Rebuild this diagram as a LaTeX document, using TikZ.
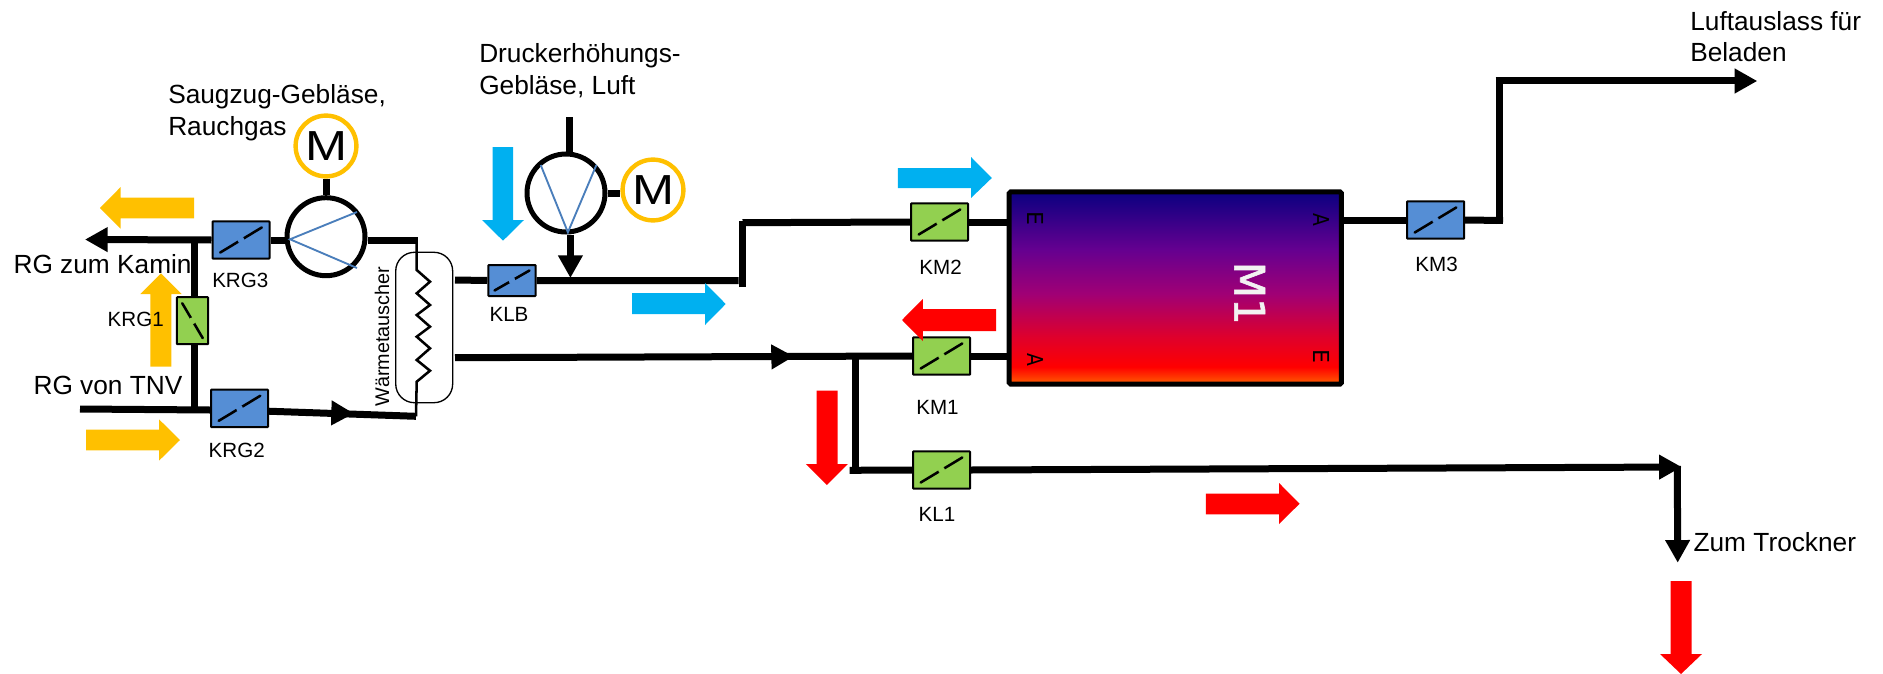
\documentclass[tikz,border=0pt]{standalone}
\usepackage{fontspec}
\setmainfont{Liberation Sans}
\newfontfamily\djv{DejaVu Sans}
\newfontfamily\djvheavy[FakeBold=1.5]{DejaVu Sans}
\usetikzlibrary{arrows.meta}
\definecolor{krblue}{HTML}{558ED5}
\definecolor{krgreen}{HTML}{92D050}
\definecolor{morange}{HTML}{FFC000}
\definecolor{flowcyan}{HTML}{00B0F0}
\definecolor{bladeblue}{HTML}{4A7EBB}
\definecolor{labelwhite}{HTML}{F2F2F2}
\definecolor{gA}{HTML}{FF6000}
\definecolor{gB}{HTML}{FF0000}
\definecolor{gC}{HTML}{E0002A}
\definecolor{gD}{HTML}{A00075}
\definecolor{gE}{HTML}{650090}
\definecolor{gF}{HTML}{0A0080}
\pgfdeclareverticalshading{mgrad}{100bp}{
 color(0bp)=(gA);
 color(25bp)=(gA);
 color(29.5bp)=(gB);
 color(37bp)=(gC);
 color(48.5bp)=(gD);
 color(60bp)=(gE);
 color(75bp)=(gF);
 color(100bp)=(gF)}
\newcommand{\bladeH}[2]{\draw[line width=1.9pt,line cap=round] ([shift={(-#1,-#2)}]path picture bounding box.center) -- ([shift={(#1,#2)}]path picture bounding box.center);
 \fill (path picture bounding box.center) circle[radius=2.6pt];}
\tikzset{
 x=0.75pt,y=-0.75pt,
 pipe/.style={line width=5.25pt,line cap=butt},
 tipped/.style={-{Triangle[length=17pt,width=17.6pt]}},
 thinpipe/.style={line width=1.9pt,line join=miter},
 damper/.style={draw,line width=1.5pt,inner sep=0pt,rounded corners=0.5pt},
 wide/.style={damper,minimum width=42.75pt,minimum height=28.1pt,
   path picture={\bladeH{15.6pt}{9.4pt}}},
 small/.style={damper,minimum width=35.6pt,minimum height=23.25pt,
   path picture={\bladeH{13.1pt}{7.5pt}}},
 upright/.style={damper,minimum width=23.5pt,minimum height=35.25pt,
   path picture={\draw[line width=1.9pt,line cap=round] ([shift={(-7.7pt,13.1pt)}]path picture bounding box.center) -- ([shift={(7.7pt,-13.1pt)}]path picture bounding box.center);
     \fill (path picture bounding box.center) circle[radius=2.6pt];}},
 fan/.style={circle,draw,line width=3.75pt,fill=white,inner sep=0pt,minimum size=58.5pt},
 motor/.style={circle,draw=morange,line width=3.3pt,fill=white,inner sep=0pt,minimum size=45.6pt,font=\fontsize{31.5}{32}\selectfont},
 blade/.style={draw=bladeblue,line width=1.4pt},
 big/.style={inner sep=0pt,anchor=base west,font=\fontsize{19.7}{24}\selectfont},
 tag/.style={inner sep=0pt,anchor=base,font=\fontsize{15.45}{18}\selectfont},
 port/.style={inner sep=0pt,rotate=-90,font=\djv\fontsize{16.5}{18}\selectfont},
}
\begin{document}
\begin{tikzpicture}
\useasboundingbox (0,0) rectangle (1883,674);
% flow arrows under the plant
\fill[morange] (194,197.7)--(120.7,197.7)--(120.7,187)--(100,208)--(120.7,228.7)--(120.7,218.3)--(194,218.3)--cycle;
\fill[morange] (150.3,366.7)--(150.3,294)--(140.3,294)--(161,273.3)--(181.7,294)--(171.3,294)--(171.3,366.7)--cycle;
\fill[morange] (86,429.7)--(159,429.7)--(159,419.3)--(180,440)--(159,460.7)--(159,450.3)--(86,450.3)--cycle;
% coordinates
\coordinate (kaminEnd) at (85,239.5);
\coordinate (tnvStart) at (80,409);
\coordinate (jTop) at (194,239.5);
\coordinate (jBot) at (194,410);
\coordinate (krg2Tip) at (354,413.5);
\coordinate (krg2Base) at (335,413);
\coordinate (wtBot) at (416,416.3);
\coordinate (wtTop) at (416.7,240.3);
\coordinate (wtA) at (455,280);
\coordinate (wtB) at (455,357.7);
\coordinate (airIn) at (569,117);
\coordinate (airTip) at (570.4,278);
\coordinate (bendA) at (738.5,280.7);
\coordinate (bendB) at (742,287);
\coordinate (bendC) at (742,221);
\coordinate (bendD) at (742.5,222.7);
\coordinate (wtBase) at (776,356.8);
\coordinate (wtTip) at (794,356.4);
\coordinate (jB1) at (855,356.7);
\coordinate (jB2) at (855,467);
\coordinate (jB3) at (849.6,470.3);
\coordinate (km3End) at (1503,220.5);
\coordinate (upB) at (1499.3,224);
\coordinate (upT) at (1499.3,77.3);
\coordinate (outS) at (1495.6,81);
\coordinate (outTip) at (1757.3,81);
\coordinate (dryTip) at (1681.7,467);
\coordinate (dryS) at (1677.3,466);
\coordinate (dryEnd) at (1677.7,562.7);
% valves, machines
\node[wide,fill=krblue] (krg3) at (241,240) {};
\node[wide,fill=krblue] (krg2) at (239.5,408.3) {};
\node[upright,fill=krgreen] (krg1) at (192.5,320.7) {};
\node[small,fill=krblue] (klb) at (512,280.5) {};
\node[wide,fill=krgreen] (km2) at (939.5,222) {};
\node[wide,fill=krgreen] (km1) at (941.5,356) {};
\node[wide,fill=krgreen] (kl1) at (941.5,470) {};
\node[wide,fill=krblue] (km3) at (1435.5,220) {};
\node[draw,line width=3.75pt,rounded corners=1.2pt,shading=mgrad,inner sep=0pt,minimum width=249.2pt,minimum height=144.3pt] (m1) at (1175.3,288) {};
\node[draw,line width=1pt,rounded corners=14pt,inner sep=0pt,minimum width=42.7pt,minimum height=112.8pt] (wt) at (424.2,327.5) {};
\node[fan] (fan1) at (326,236.7) {};
\node[fan] (fan2) at (566,193) {};
\node[motor] (mot1) at (326,146) {\scalebox{1.2}[1]{M}};
\node[motor] (mot2) at (653,190) {\scalebox{1.2}[1]{M}};
% connectors
\draw[pipe,tipped] (krg3.west) -- (kaminEnd);
\draw[pipe] (fan1.west |- krg3.east) -- (krg3.east);
\draw[pipe] (fan1.east |- wtTop) -- ([xshift=1.2pt]wtTop);
\draw[pipe] (tnvStart) -- (krg2.west |- jBot);
\draw[pipe] (jTop) -- (krg1.north -| jTop);
\draw[pipe] (krg1.south -| jBot) -- (jBot);
\draw[pipe] ([yshift=-2.2pt]krg2.east) -- (wtBot);
\draw[pipe,tipped] (krg2Base) -- (krg2Tip);
\draw[thinpipe] (wtTop) -- (416.7,270) -- (430,281.7) -- (416.7,293.3) -- (430,305) -- (416.7,315) -- (430,326.7) -- (416.7,336.7) -- (430,348.3) -- (416.7,360) -- (430,370.7) -- (416.7,381.7) -- (wtBot);
\draw[pipe] (wtA) -- (klb.west);
\draw[pipe] (klb.east) -- (bendA);
\draw[pipe] (bendB) -- (bendC);
\draw[pipe] (bendD) -- (km2.west);
\draw[pipe] (km2.east) -- (m1.west |- km2.east);
\draw[pipe] (airIn) -- (fan2.north -| airIn);
\draw[pipe,tipped] (fan2.south -| airTip) -- (airTip);
\draw[pipe] (fan2.east) -- (fan2.east -| mot2.west);
\draw[pipe] (mot1.south) -- (fan1.north);
\draw[pipe] (wtB) -- (km1.west);
\draw[pipe,tipped] (wtBase) -- (wtTip);
\draw[pipe] (km1.east) -- (m1.west |- km1.east);
\draw[pipe] (jB1) -- (jB2);
\draw[pipe] (jB3) -- (kl1.west);
\draw[pipe,tipped] (kl1.east) -- (dryTip);
\draw[pipe,tipped] (dryS) -- (dryEnd);
\draw[pipe] (m1.east |- km3.west) -- (km3.west);
\draw[pipe] (km3.east) -- (km3End);
\draw[pipe] (upB) -- (upT);
\draw[pipe,tipped] (outS) -- (outTip);
% impellers
\coordinate (f1a) at (290,239.3);
\draw[blade] (357,212) -- (f1a) -- (357,268);
\coordinate (f2a) at (567.9,232.3);
\draw[blade] (540.7,165) -- (f2a) -- (596.4,165);
% flow arrows over the plant
\fill[flowcyan] (492.5,147)--(513.2,147)--(513.2,220)--(524,220)--(503,240.7)--(482,220)--(492.5,220)--cycle;
\fill[flowcyan] (632,293)--(705,293)--(705,283)--(725.7,304)--(705,325)--(705,314)--(632,314)--cycle;
\fill[flowcyan] (897.9,168)--(971,168)--(971,157)--(991.8,178)--(971,198)--(971,188)--(897.9,188)--cycle;
\fill[red] (996,309)--(922.8,309)--(922.8,299)--(902,320)--(922.8,341)--(922.8,331)--(996,331)--cycle;
\fill[red] (816.5,390.7)--(837.5,390.7)--(837.5,464)--(847.8,464)--(826.8,485)--(805.8,464)--(816.5,464)--cycle;
\fill[red] (1205.8,493.7)--(1279,493.7)--(1279,483)--(1299.6,503.7)--(1279,524)--(1279,514.3)--(1205.8,514.3)--cycle;
\fill[red] (1670.7,581)--(1691.7,581)--(1691.7,654)--(1702,654)--(1681,674)--(1660,654)--(1670.7,654)--cycle;
% labels
\node[big] (tSaug) at (168,103.3) {Saugzug-Gebläse,};
\node[big] (tRauch) at (168,135) {Rauchgas};
\node[big] (tDruck) at (479,63) {Druckerhöhungs-};
\node[big] (tGebl) at (479,94.5) {Gebläse, Luft};
\node[big] (tKamin) at (13.3,273.3) {RG zum Kamin};
\node[big] (tTnv) at (33.3,394) {RG von TNV};
\node[big] (tLuft) at (1690,30.5) {Luftauslass für};
\node[big] (tBel) at (1690,61.7) {Beladen};
\node[big] (tZum) at (1693.3,551.7) {Zum Trockner};
\node[tag] (lKrg3) at (240.3,287.7) {KRG3};
\node[tag] (lKrg2) at (236.7,457.7) {KRG2};
\node[tag] (lKrg1) at (135.7,326) {KRG1};
\node[tag] (lKlb) at (509,321.7) {KLB};
\node[tag] (lKm2) at (940.6,274.5) {KM2};
\node[tag] (lKm1) at (937.5,414) {KM1};
\node[tag] (lKl1) at (937,521.6) {KL1};
\node[tag] (lKm3) at (1436.6,271.7) {KM3};
\node[inner sep=0pt,anchor=base west,rotate=90,font=\fontsize{14.85}{16}\selectfont] (lWt) at (389,406.7) {Wärmetauscher};
\node[inner sep=0pt,rotate=-90,text=labelwhite,font=\djvheavy\fontsize{31.5}{34}\selectfont] (lM1) at (1249.7,293.3) {M1};
\node[port] (pE1) at (1035.3,218) {E};
\node[port] (pA1) at (1321.7,220) {\scalebox{0.85}[1]{A}};
\node[port] (pA2) at (1035.3,360) {\scalebox{0.85}[1]{A}};
\node[port] (pE2) at (1321.7,356) {E};
\end{tikzpicture}
\end{document}
